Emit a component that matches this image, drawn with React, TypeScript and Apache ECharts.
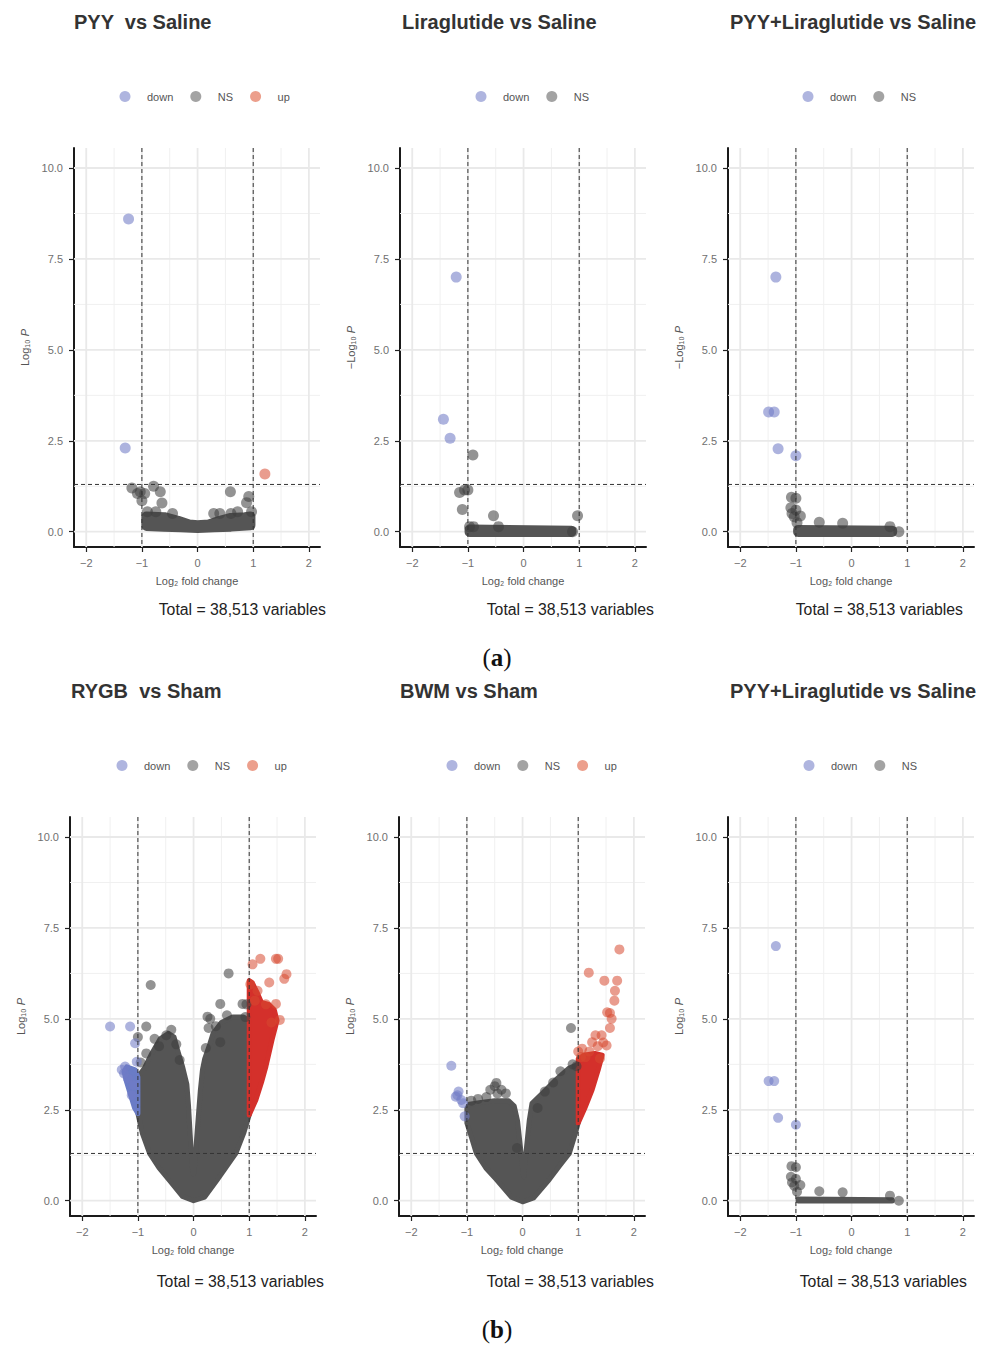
import React, { useEffect, useRef } from "react";
import * as echarts from "echarts";

// ---------- axis ticks / cut-offs ----------
const X_TICKS = [-2, -1, 0, 1, 2];
const Y_TICKS = [0, 2.5, 5, 7.5, 10];
const X_MINOR = [-1.5, -0.5, 0.5, 1.5];
const Y_MINOR = [1.25, 3.75, 6.25, 8.75];
const FC_CUTOFFS = [-1, 1];
const P_CUTOFF = 1.3;
const TOTAL_LABEL = "Total = 38,513 variables";

const PANEL_TITLES = [
  "PYY  vs Saline",
  "Liraglutide vs Saline",
  "PYY+Liraglutide vs Saline",
  "RYGB  vs Sham",
  "BWM vs Sham",
  "PYY+Liraglutide vs Saline",
];
const Y_TITLES = ["Log₁₀ ", "−Log₁₀ ", "−Log₁₀ ", "Log₁₀ ", "Log₁₀ ", "Log₁₀ "];
const X_TITLE = "Log₂ fold change";
const LEGEND_ITEMS = [
  ["down", "NS", "up"],
  ["down", "NS"],
  ["down", "NS"],
  ["down", "NS", "up"],
  ["down", "NS", "up"],
  ["down", "NS"],
];

// ---------- panel (a1) PYY vs Saline ----------
const A1_DOWN = [[-1.24, 8.6], [-1.3, 2.3]];
const A1_UP = [[1.21, 1.59]];
const A1_NS = [
  [-1.18, 1.2], [-1.03, 1.1], [-1.0, 0.85], [-0.95, 1.05], [-0.79, 1.25],
  [-0.67, 1.1], [-0.64, 0.79], [0.59, 1.1], [0.92, 0.97], [0.88, 0.8],
  [0.72, 0.55], [0.29, 0.5], [0.4, 0.5], [-0.9, 0.55], [-0.45, 0.5],
  [0.97, 0.55], [-1.08, 1.05], [-0.75, 0.55], [0.6, 0.5],
];
const A1_NS_CLOUD = [
  [-0.92, 0.42], [-0.6, 0.4], [-0.35, 0.3], [-0.15, 0.2], [0, 0.18], [0.2, 0.2],
  [0.4, 0.3], [0.6, 0.38], [0.85, 0.4], [0.95, 0.42],
  [0.95, 0.18], [0.6, 0.14], [0.3, 0.12], [0, 0.1], [-0.3, 0.12], [-0.6, 0.14], [-0.92, 0.16],
];

// ---------- panel (a2) Liraglutide vs Saline ----------
const A2_DOWN = [[-1.21, 7.0], [-1.44, 3.09], [-1.32, 2.57]];
const A2_NS = [
  [-0.91, 2.11], [-1.15, 1.08], [-1.06, 1.15], [-1.0, 1.15], [-1.1, 0.61],
  [-0.54, 0.44], [-0.45, 0.14], [0.97, 0.44], [-0.97, 0.14], [-0.9, 0.14], [0.88, 0.0],
];
const A2_NS_CLOUD = [[-0.97, 0.06], [0.86, 0.03], [0.86, -0.01], [-0.97, -0.01]];

// ---------- panel (a3)/(b3) PYY+Liraglutide vs Saline ----------
const A3_DOWN = [[-1.36, 7.0], [-1.49, 3.29], [-1.39, 3.29], [-1.32, 2.28], [-1.0, 2.09]];
const A3_NS = [
  [-1.08, 0.95], [-1.0, 0.92], [-1.09, 0.66], [-1.07, 0.5], [-1.03, 0.41],
  [-0.92, 0.43], [-0.98, 0.25], [-0.58, 0.26], [-0.16, 0.23], [0.69, 0.14],
  [0.85, 0.0], [-1.0, 0.6],
];
const A3_NS_CLOUD = [[-0.96, 0.05], [0.73, 0.03], [0.73, -0.01], [-0.96, -0.01]];

// ---------- panel (b1) RYGB vs Sham ----------
const B1_NS_CLOUD = [
  [0, 0.0], [0.2, 0.1], [0.43, 0.58], [0.6, 0.95], [0.76, 1.3], [0.9, 1.85],
  [1.0, 2.36], [1.0, 4.95], [0.9, 5.05], [0.7, 5.05], [0.5, 4.9], [0.35, 4.6],
  [0.29, 4.3], [0.2, 3.9], [0.16, 3.6], [0.12, 3.0], [0.08, 2.2], [0.04, 1.4],
  [0.01, 0.8], [0, 0.74], [-0.03, 1.0], [-0.06, 1.8], [-0.09, 2.6], [-0.12, 3.2],
  [-0.2, 3.7], [-0.28, 4.1], [-0.35, 4.5], [-0.45, 4.6], [-0.6, 4.45],
  [-0.75, 4.05], [-0.88, 3.65], [-1.0, 3.4], [-1.0, 2.4], [-0.92, 1.85],
  [-0.79, 1.3], [-0.62, 0.9], [-0.43, 0.55], [-0.2, 0.12],
];
const B1_NS = [
  [-0.77, 5.93], [-0.85, 4.79], [-1.0, 4.5], [-0.4, 4.7], [-0.49, 4.55], [-0.31, 4.3],
  [-0.62, 4.25], [-0.25, 3.87], [0.63, 6.25], [0.48, 5.41], [0.3, 5.0], [0.25, 5.06],
  [0.27, 4.75], [0.48, 4.36], [0.6, 5.1], [0.88, 5.41], [0.95, 5.4], [0.93, 5.05],
  [0.22, 4.2], [-0.85, 4.05], [-0.7, 4.45], [-0.95, 3.8], [0.4, 4.8],
];
const B1_DOWN = [
  [-1.5, 4.79], [-1.14, 4.79], [-1.05, 4.33], [-1.02, 3.82], [-1.23, 3.69],
  [-1.29, 3.6], [-1.18, 3.36], [-1.08, 3.18], [-1.11, 2.9], [-1.25, 3.5],
];
const B1_DOWN_CLOUD = [
  [-1.0, 2.4], [-1.06, 2.55], [-1.13, 2.9], [-1.2, 3.25], [-1.25, 3.55],
  [-1.2, 3.68], [-1.05, 3.6], [-1.0, 3.4],
];
const B1_UP_CLOUD = [
  [1.0, 2.36], [1.12, 2.77], [1.22, 3.25], [1.3, 3.69], [1.41, 4.42], [1.5, 4.95],
  [1.45, 5.25], [1.35, 5.4], [1.22, 5.45], [1.15, 5.7], [1.05, 6.0], [1.0, 6.05],
];
const B1_UP = [
  [1.06, 6.5], [1.2, 6.65], [1.48, 6.65], [1.52, 6.65], [1.67, 6.23], [1.63, 6.1],
  [1.36, 6.0], [1.15, 5.77], [1.48, 5.41], [1.02, 5.95], [1.1, 5.5], [1.3, 5.4],
  [1.55, 4.97], [1.4, 4.9],
];

// ---------- panel (b2) BWM vs Sham ----------
const B2_NS_CLOUD = [
  [0, -0.03], [0.2, 0.08], [0.48, 0.58], [0.66, 0.95], [0.84, 1.3], [0.93, 1.75],
  [1.0, 2.14], [1.0, 3.75], [0.84, 3.65], [0.6, 3.33], [0.36, 2.96], [0.17, 2.68],
  [0.12, 2.2], [0.08, 1.6], [0.04, 1.0], [0.02, 0.66], [0, 0.9], [-0.04, 1.5],
  [-0.09, 2.2], [-0.15, 2.6], [-0.25, 2.75], [-0.5, 2.75], [-0.75, 2.7],
  [-0.95, 2.65], [-1.0, 2.55], [-1.0, 2.14], [-0.92, 1.75], [-0.83, 1.3],
  [-0.66, 0.9], [-0.47, 0.58], [-0.2, 0.1],
];
const B2_NS = [
  [-0.5, 3.15], [-0.47, 3.24], [-0.38, 3.05], [-0.3, 2.95], [-0.45, 2.95], [-0.65, 2.85],
  [-0.8, 2.8], [-0.92, 2.75], [0.68, 3.56], [0.87, 4.75], [0.27, 2.55], [-0.1, 1.45],
  [0.4, 3.0], [0.55, 3.25], [0.9, 3.75], [0.97, 3.7], [-0.58, 3.05],
];
const B2_DOWN = [
  [-1.28, 3.71], [-1.15, 3.0], [-1.2, 2.86], [-1.1, 2.77], [-1.07, 2.68],
  [-1.04, 2.32], [-1.17, 2.9],
];
const B2_UP_CLOUD = [
  [1.0, 2.14], [1.12, 2.55], [1.25, 3.05], [1.36, 3.6], [1.43, 4.0],
  [1.3, 4.05], [1.1, 4.0], [1.0, 3.9],
];
const B2_UP = [
  [1.07, 4.18], [1.25, 4.36], [1.42, 4.55], [1.51, 4.27], [1.31, 4.55], [1.13, 3.95],
  [1.39, 3.91], [1.2, 4.1], [1.35, 4.25], [1.05, 3.95], [1.0, 4.1], [1.45, 4.35],
  [1.74, 6.91], [1.19, 6.27], [1.47, 6.05], [1.7, 6.05], [1.66, 5.77], [1.65, 5.5],
  [1.57, 5.16], [1.52, 5.18], [1.6, 5.0], [1.57, 4.75],
];

const PANELS = [
  { down: A1_DOWN, ns: A1_NS, up: A1_UP, nsCloud: A1_NS_CLOUD, downCloud: null, upCloud: null },
  { down: A2_DOWN, ns: A2_NS, up: [], nsCloud: A2_NS_CLOUD, downCloud: null, upCloud: null },
  { down: A3_DOWN, ns: A3_NS, up: [], nsCloud: A3_NS_CLOUD, downCloud: null, upCloud: null },
  { down: B1_DOWN, ns: B1_NS, up: B1_UP, nsCloud: B1_NS_CLOUD, downCloud: B1_DOWN_CLOUD, upCloud: B1_UP_CLOUD },
  { down: B2_DOWN, ns: B2_NS, up: B2_UP, nsCloud: B2_NS_CLOUD, downCloud: null, upCloud: B2_UP_CLOUD },
  { down: A3_DOWN, ns: A3_NS, up: [], nsCloud: A3_NS_CLOUD, downCloud: null, upCloud: null },
];

// ---------- layout / style ----------
const FONT = "'Liberation Sans', Arial, Helvetica, sans-serif";
const SERIF = "'Liberation Serif', 'Times New Roman', serif";
const LEFTS = [74, 400, 728, 70, 399, 728];
const TOPS = [148, 817];
const GW = 246;
const GH = 399;
const X_MIN = -2.22;
const X_MAX = 2.2;
const Y_MIN = -0.42;
const Y_MAX = 10.55;
const LEGEND_LEFTS = [119.5, 475.5, 802.5, 116.5, 446.5, 803.5];
const LEGEND_TOPS = [91, 760];
const TOTAL_RIGHTS = [326, 654, 963, 324, 654, 967];
const TOTAL_YS = [609, 1281];
const TITLE_LEFTS = [74, 402, 730, 71, 400, 730];
const TITLE_TOPS = [12, 681];

const LEGEND_COLORS: Record<string, string> = { down: "#9ba2d7", NS: "#8c8c8c", up: "#e7876f" };
const COL_DOWN = "rgba(112,124,198,0.72)";
const COL_NS = "rgba(62,62,62,0.7)";
const COL_UP = "rgba(214,74,48,0.68)";
const CLOUD_NS = "#555555";
const CLOUD_DOWN = "#6a7cc6";
const CLOUD_UP = "#d4302b";
const TICK_TEXT = "#707070";
const AXIS_TITLE = "#555555";

function fmtX(v: number) {
  return v < 0 ? "−" + Math.abs(v) : String(v);
}

function lineSeries(i: number, data: number[][], horizontal: boolean, style: any, z: number) {
  return {
    type: "custom",
    xAxisIndex: i,
    yAxisIndex: i,
    z,
    silent: true,
    data,
    renderItem: (params: any, api: any) => {
      const cs = params.coordSys;
      if (horizontal) {
        const y = api.coord([0, api.value(1)])[1];
        return { type: "line", shape: { x1: cs.x, y1: y, x2: cs.x + cs.width, y2: y }, style };
      }
      const x = api.coord([api.value(0), 0])[0];
      return { type: "line", shape: { x1: x, y1: cs.y, x2: x, y2: cs.y + cs.height }, style };
    },
  };
}

function cloudSeries(i: number, pts: number[][], fill: string, z: number, lw: number) {
  return {
    type: "custom",
    xAxisIndex: i,
    yAxisIndex: i,
    z,
    silent: true,
    data: pts,
    renderItem: (params: any, api: any) => {
      if (params.dataIndex !== 0) return null;
      return {
        type: "polygon",
        shape: { points: pts.map((p) => api.coord(p)) },
        style: { fill, stroke: fill, lineWidth: lw, lineJoin: "round" },
      };
    },
  };
}

function buildOption() {
  const grid: any[] = [];
  const xAxis: any[] = [];
  const yAxis: any[] = [];
  const series: any[] = [];
  const legend: any[] = [];
  const title: any[] = [];
  const graphic: any[] = [];

  PANELS.forEach((p, i) => {
    const row = i < 3 ? 0 : 1;
    const sym = row === 0 ? 11 : 10;
    grid.push({ left: LEFTS[i], top: TOPS[row], width: GW, height: GH });
    xAxis.push({
      gridIndex: i,
      type: "value",
      min: X_MIN,
      max: X_MAX,
      name: X_TITLE,
      nameLocation: "middle",
      nameGap: 28,
      nameTextStyle: { fontFamily: FONT, fontSize: 11, color: AXIS_TITLE },
      axisLine: { show: true, onZero: false, lineStyle: { color: "#1a1a1a", width: 2 } },
      axisTick: { show: true, customValues: X_TICKS, length: 5, lineStyle: { color: "#222", width: 1.2 } },
      axisLabel: { customValues: X_TICKS, formatter: fmtX, margin: 10, fontFamily: FONT, fontSize: 11, color: TICK_TEXT },
      splitLine: { show: false },
    });
    yAxis.push({
      gridIndex: i,
      type: "value",
      min: Y_MIN,
      max: Y_MAX,
      name: "{t|" + Y_TITLES[i] + "}{i|P}",
      nameLocation: "middle",
      nameRotate: 90,
      nameGap: 44,
      nameTextStyle: {
        rich: {
          t: { fontFamily: FONT, fontSize: 11, color: AXIS_TITLE },
          i: { fontFamily: FONT, fontSize: 11, color: AXIS_TITLE, fontStyle: "italic" },
        },
      },
      axisLine: { show: true, onZero: false, lineStyle: { color: "#1a1a1a", width: 2 } },
      axisTick: { show: true, customValues: Y_TICKS, length: 5, lineStyle: { color: "#222", width: 1.2 } },
      axisLabel: {
        customValues: Y_TICKS,
        formatter: (v: number) => v.toFixed(1),
        margin: 11,
        fontFamily: FONT,
        fontSize: 11,
        color: TICK_TEXT,
      },
      splitLine: { show: false },
    });

    // grid lines
    series.push(lineSeries(i, Y_MINOR.map((v) => [0, v]), true, { stroke: "#f0f0f0", lineWidth: 1 }, 1));
    series.push(lineSeries(i, X_MINOR.map((v) => [v, 0]), false, { stroke: "#f0f0f0", lineWidth: 1 }, 1));
    series.push(lineSeries(i, Y_TICKS.map((v) => [0, v]), true, { stroke: "#e9e9e9", lineWidth: 1.8 }, 1));
    series.push(lineSeries(i, X_TICKS.map((v) => [v, 0]), false, { stroke: "#e9e9e9", lineWidth: 1.8 }, 1));

    // dense clouds
    const lw = row === 0 ? 10 : 5;
    if (p.nsCloud) series.push(cloudSeries(i, p.nsCloud, CLOUD_NS, 2, lw));
    if (p.downCloud) series.push(cloudSeries(i, p.downCloud, CLOUD_DOWN, 2, lw));
    if (p.upCloud) series.push(cloudSeries(i, p.upCloud, CLOUD_UP, 2, lw));

    // points
    series.push({
      type: "scatter", name: "NS", xAxisIndex: i, yAxisIndex: i, z: 3, silent: true,
      symbolSize: sym, data: p.ns, itemStyle: { color: COL_NS },
    });
    series.push({
      type: "scatter", name: "down", xAxisIndex: i, yAxisIndex: i, z: 3, silent: true,
      symbolSize: sym, data: p.down, itemStyle: { color: COL_DOWN },
    });
    if (p.up.length) {
      series.push({
        type: "scatter", name: "up", xAxisIndex: i, yAxisIndex: i, z: 3, silent: true,
        symbolSize: sym, data: p.up, itemStyle: { color: COL_UP },
      });
    }

    // cut-off lines
    const dash = { stroke: "#333", lineWidth: 1, lineDash: [4, 3] };
    series.push(lineSeries(i, [[0, P_CUTOFF]], true, dash, 4));
    series.push(lineSeries(i, FC_CUTOFFS.map((v) => [v, 0]), false, dash, 4));

    legend.push({
      left: LEGEND_LEFTS[i],
      top: LEGEND_TOPS[row],
      orient: "horizontal",
      padding: 0,
      itemWidth: 11,
      itemHeight: 11,
      itemGap: 17,
      icon: "circle",
      selectedMode: false,
      textStyle: { fontFamily: FONT, fontSize: 11, color: "#555", padding: [0, 0, 0, 11.5] },
      data: LEGEND_ITEMS[i].map((n) => ({ name: n, icon: "circle", itemStyle: { color: LEGEND_COLORS[n] } })),
    });

    title.push({
      text: PANEL_TITLES[i],
      left: TITLE_LEFTS[i],
      top: TITLE_TOPS[row],
      padding: 0,
      textStyle: { fontFamily: FONT, fontSize: 20, fontWeight: "bold", color: "#333" },
    });

    graphic.push({
      type: "text",
      x: TOTAL_RIGHTS[i],
      y: TOTAL_YS[row],
      style: {
        text: TOTAL_LABEL,
        align: "right",
        verticalAlign: "middle",
        fontFamily: FONT,
        fontSize: 15.8,
        fill: "#222",
      },
    });
  });

  const panelTag = (letter: string, y: number) => ({
    type: "text",
    x: 497,
    y,
    style: {
      text: "{p|(}{b|" + letter + "}{p|)}",
      align: "center",
      verticalAlign: "middle",
      rich: {
        p: { fontFamily: SERIF, fontSize: 25, fill: "#111" },
        b: { fontFamily: SERIF, fontSize: 25, fontWeight: "bold", fill: "#111" },
      },
    },
  });
  graphic.push(panelTag("a", 657));
  graphic.push(panelTag("b", 1329));

  return {
    animation: false,
    backgroundColor: "#ffffff",
    grid,
    xAxis,
    yAxis,
    series,
    legend,
    title,
    graphic,
  };
}

export default function App() {
  const ref = useRef<HTMLDivElement>(null);
  useEffect(() => {
    document.body.style.margin = "0";
    if (!ref.current) return;
    const chart = echarts.init(ref.current, undefined, { renderer: "svg" });
    chart.setOption(buildOption() as any);
    return () => chart.dispose();
  }, []);
  return <div ref={ref} style={{ width: 992, height: 1347, background: "#fff" }} />;
}
